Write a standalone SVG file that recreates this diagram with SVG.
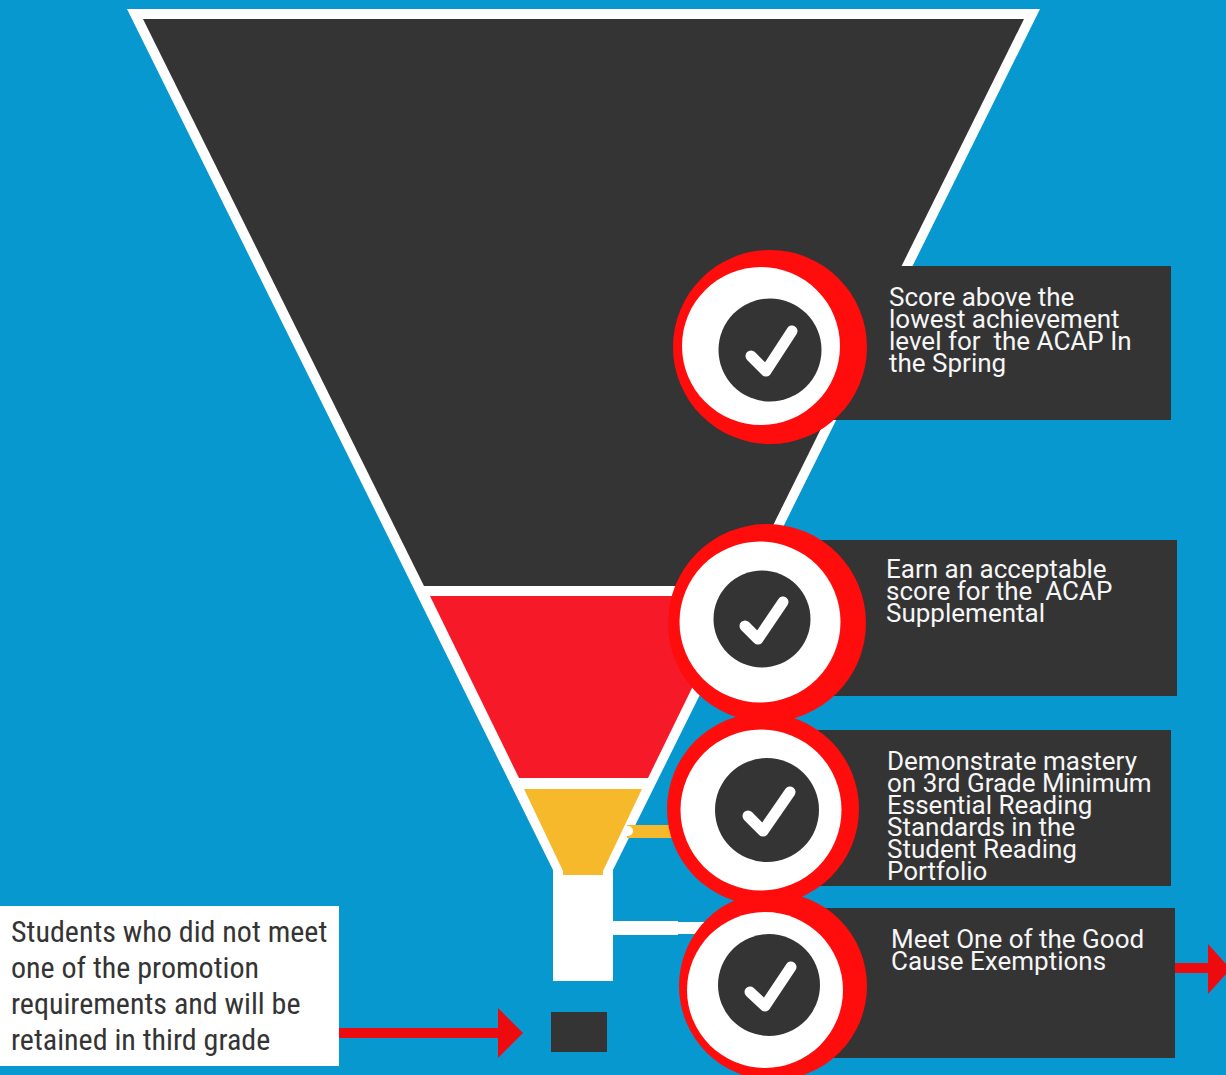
<svg xmlns="http://www.w3.org/2000/svg" width="1226" height="1075" viewBox="0 0 1226 1075">
<style>
.d{fill:#343434}.w{fill:#fff}.r{fill:#ff0c0c}.a{fill:#ee0b0f}
.t{font-family:Roboto,"Liberation Sans",sans-serif;font-size:26px;fill:#f6f6f6}
.c{fill:none;stroke:#fff;stroke-width:11;stroke-linecap:round;stroke-linejoin:round}
.s{font-family:"Roboto Condensed",Roboto,"Liberation Sans",sans-serif;font-size:30px;fill:#343434}
</style>
<rect width="1226" height="1075" fill="#0798d0"/>
<g id="funnel">
<polygon class="w" points="127,9 1040,9 613,870 613,981 553,981 553,870"/>
<polygon class="d" points="143,19 1024,19 743,586 424,586"/>
<polygon fill="#f61928" points="430,596 737,596 648,778 519,778"/>
<polygon fill="#f7b92c" points="524,789 642,789 603,871 603,875 563,875 563,871"/>
</g>
<g id="connectors">
<rect x="627" y="825" width="50" height="13" fill="#f7b92c"/>
<circle class="w" cx="628" cy="831" r="5"/>
<rect class="w" x="613" y="921" width="65" height="14"/>
<rect class="w" x="678" y="922" width="40" height="12"/>
<rect class="a" x="339" y="1028" width="165" height="10"/>
<polygon class="a" points="498,1008 523,1033 498,1058"/>
<rect class="a" x="1175" y="963" width="35" height="10"/>
<polygon class="a" points="1208,944 1226,964 1226,974 1208,994"/>
</g>
<g id="step1">
<rect class="d" x="760" y="266" width="411" height="154"/>
<circle class="r" cx="770" cy="347" r="97"/>
<circle class="w" cx="761" cy="346" r="79"/>
<circle class="d" cx="770" cy="350" r="51.5"/>
<path class="c" d="M751 356L766 371L792 331"/>
<text class="t"><tspan x="889" y="306">Score above the</tspan><tspan x="889" y="328">lowest achievement</tspan><tspan x="889" y="350" xml:space="preserve">level for  the ACAP In</tspan><tspan x="889" y="372">the Spring</tspan></text>
</g>
<g id="step2">
<rect class="d" x="760" y="540" width="417" height="156"/>
<circle class="r" cx="767" cy="623" r="99"/>
<circle class="w" cx="760" cy="622" r="80.5"/>
<circle class="d" cx="762" cy="619" r="48.5"/>
<path class="c" d="M745 626L758 639L783 602"/>
<text class="t"><tspan x="886" y="578">Earn an acceptable</tspan><tspan x="886" y="600" xml:space="preserve">score for the  ACAP</tspan><tspan x="886" y="622">Supplemental</tspan></text>
</g>
<g id="step3">
<rect class="d" x="760" y="730" width="411" height="156"/>
<circle class="r" cx="763" cy="809" r="96"/>
<circle class="w" cx="761" cy="810" r="80.5"/>
<circle class="d" cx="767" cy="810" r="52"/>
<path class="c" d="M748 816L763 831L790 792"/>
<text class="t"><tspan x="887" y="770">Demonstrate mastery</tspan><tspan x="887" y="792">on 3rd Grade Minimum</tspan><tspan x="887" y="814">Essential Reading</tspan><tspan x="887" y="836">Standards in the</tspan><tspan x="887" y="858">Student Reading</tspan><tspan x="887" y="880">Portfolio</tspan></text>
</g>
<g id="step4">
<rect class="d" x="770" y="908" width="405" height="150"/>
<circle class="r" cx="773" cy="986" r="94"/>
<circle class="w" cx="765" cy="990" r="78"/>
<circle class="d" cx="769" cy="985" r="51"/>
<path class="c" d="M750 992L765 1006L791 967"/>
<text class="t"><tspan x="891" y="948">Meet One of the Good</tspan><tspan x="891" y="970">Cause Exemptions</tspan></text>
</g>
<g id="retained">
<rect class="w" x="0" y="906" width="339" height="160"/>
<text class="s"><tspan x="11" y="942">Students who did not meet</tspan><tspan x="11" y="978">one of the promotion</tspan><tspan x="11" y="1014">requirements and will be</tspan><tspan x="11" y="1050">retained in third grade</tspan></text>
</g>
<g id="bottom"><rect class="d" x="551" y="1012" width="56" height="40"/></g>
</svg>
